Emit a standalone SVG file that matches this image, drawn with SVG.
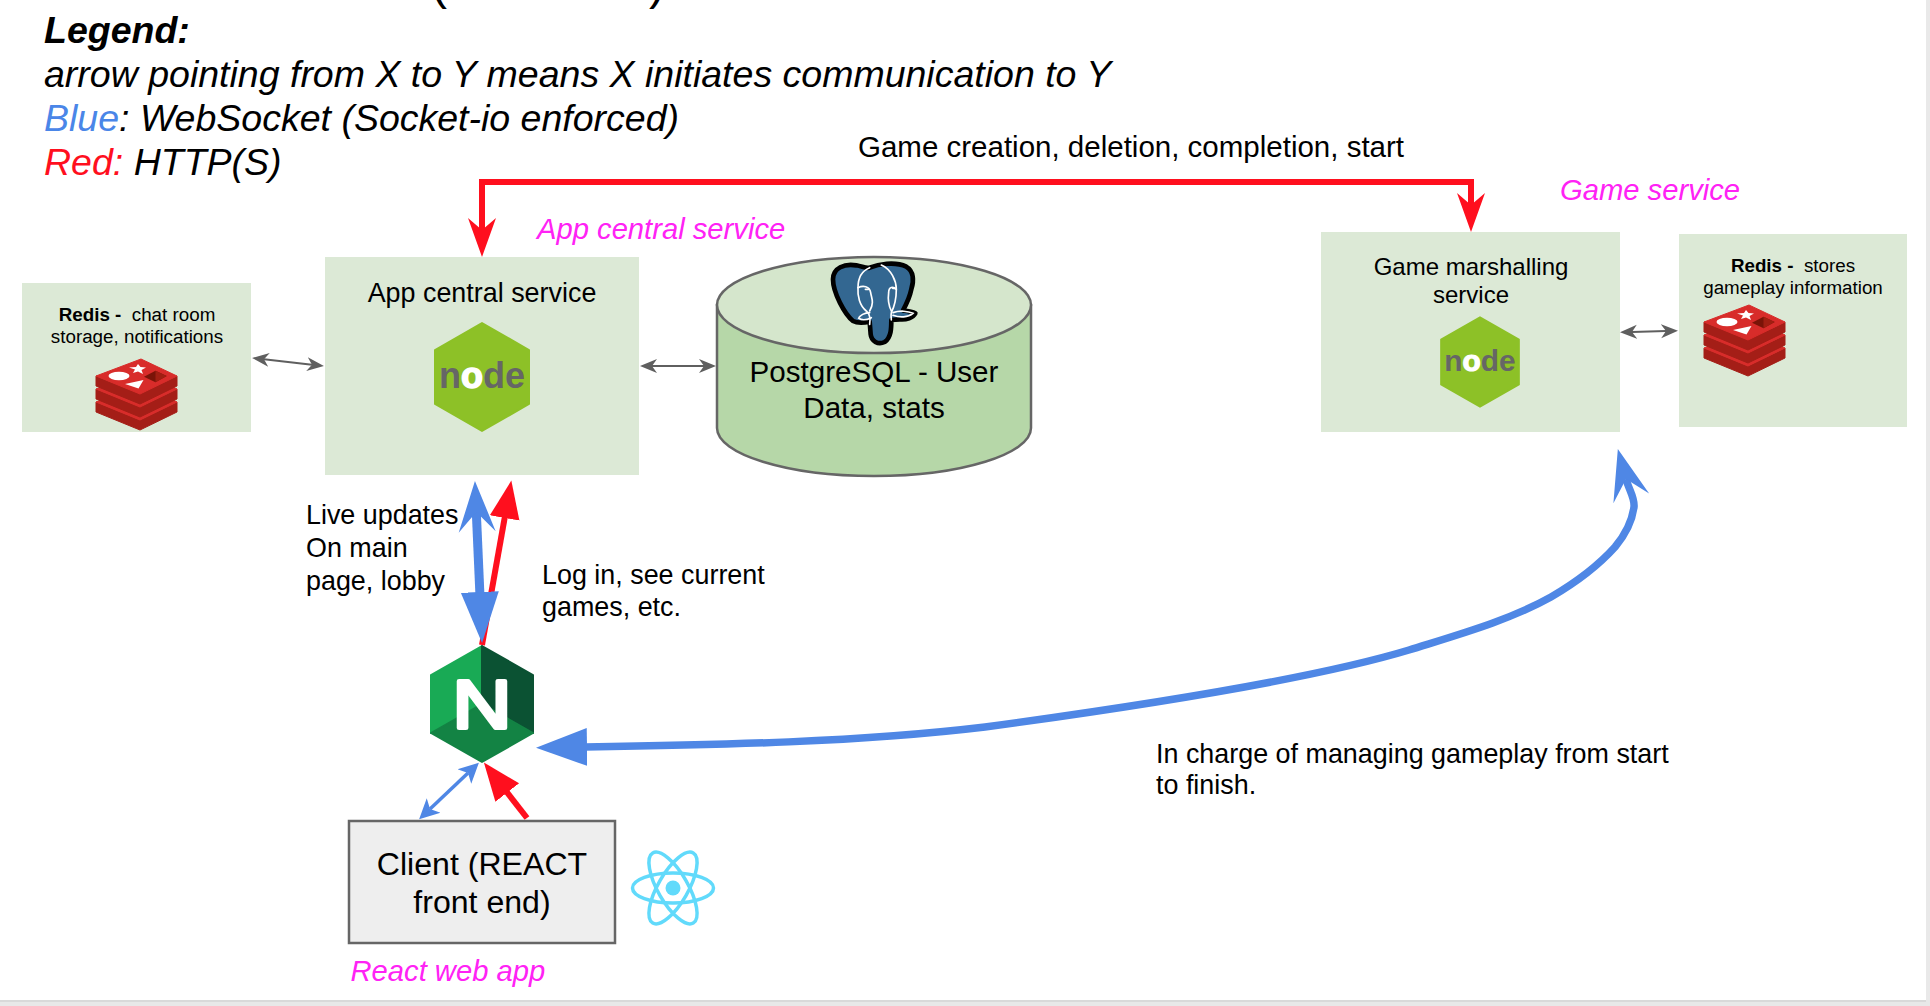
<svg xmlns="http://www.w3.org/2000/svg" xmlns:xlink="http://www.w3.org/1999/xlink" width="1930" height="1006" viewBox="0 0 1930 1006">
<style>
text{font-family:"Liberation Sans",Arial,sans-serif;fill:#000}
.leg{font-size:37.500px;font-style:italic}
.tag{font-size:29.200px;font-style:italic;fill:#ff22f5}
.lab{font-size:26.900px}
.big{font-size:29.600px;text-anchor:middle}
.mid{font-size:26.900px;text-anchor:middle}
.sm{font-size:18.800px;text-anchor:middle}
.box{fill:#dce9d6}
.grey{stroke:#5f5f5f;stroke-width:2;fill:none}
.red{stroke:#ff0f1e;fill:none}
.blue{stroke:#4f87e5;fill:none}
</style>
<defs>
<marker id="redBarb" markerUnits="userSpaceOnUse" markerWidth="45" markerHeight="32" viewBox="0 -16 45 32" refX="12" refY="0" orient="auto-start-reverse"><path d="M0,-14L39,0L0,14L12,0Z" fill="#ff0f1e"/></marker>
<marker id="redFlat" markerUnits="userSpaceOnUse" markerWidth="42" markerHeight="34" viewBox="0 -17 42 34" refX="2" refY="0" orient="auto-start-reverse"><path d="M0,-15L38,0L0,15Z" fill="#ff0f1e"/></marker>
<marker id="blueFlat" markerUnits="userSpaceOnUse" markerWidth="56" markerHeight="42" viewBox="0 -21 56 42" refX="2" refY="0" orient="auto-start-reverse"><path d="M0,-19L51,0L0,19Z" fill="#4f87e5"/></marker>
<marker id="blueBarb" markerUnits="userSpaceOnUse" markerWidth="56" markerHeight="42" viewBox="0 -21 56 42" refX="20" refY="0" orient="auto-start-reverse"><path d="M0,-18.500L51,0L0,18.500L20,0Z" fill="#4f87e5"/></marker>
<marker id="blueSmall" markerUnits="userSpaceOnUse" markerWidth="24" markerHeight="24" viewBox="0 -12 24 24" refX="5" refY="0" orient="auto-start-reverse"><path d="M0,-10L20,0L0,10L5,0Z" fill="#4f87e5"/></marker>
<marker id="greyHead" markerUnits="userSpaceOnUse" markerWidth="20" markerHeight="18" viewBox="0 -9 20 18" refX="5" refY="0" orient="auto-start-reverse"><path d="M0,-7L17,0L0,7L5,0Z" fill="#5f5f5f"/></marker>
<g id="redisLayer">
<path d="M6,21L50,39L87,21V31L50,49L6,31Z" fill="#a41e17" stroke="#a41e17" stroke-width="1" stroke-linejoin="round"/>
<path d="M6,21L51,4L87,21L50,39Z" fill="#d82c2a" stroke="#d82c2a" stroke-width="1" stroke-linejoin="round"/>
</g>
<g id="redisIcon">
<use href="#redisLayer" y="26"/>
<use href="#redisLayer" y="13"/>
<use href="#redisLayer"/>
<ellipse cx="29" cy="21" rx="10.500" ry="4.200" fill="#fff"/>
<path d="M48,9L50.500,12L56,12.500L51.500,15L53,19L48,16.500L43,18L45,14.500L39,12.500L46,12Z" fill="#fff"/>
<path d="M35,29L53.500,25L48.500,33.500Z" fill="#fff"/>
<path d="M54,21.700L65.500,15.700L76.700,21L65.500,27.300Z" fill="#7a1408"/><path d="M65.500,15.700L76.700,21L65.500,27.300Z" fill="#a11f12"/>
</g>
<g id="nodeIcon">
<path d="M0,-54L47,-27V27L0,54L-47,27V-27Z" fill="#8dc127" stroke="#8dc127" stroke-width="2" stroke-linejoin="round"/>
<text x="0" y="11" text-anchor="middle" style="font-size:36px;font-weight:bold;fill:#666;font-family:'Liberation Sans',sans-serif">n<tspan style="fill:#fff;stroke:#fff;stroke-width:1.500">o</tspan>de</text>
</g>
</defs>
<rect width="1930" height="1006" fill="#fff"/>
<rect x="1926" y="0" width="4" height="1006" fill="#e9e9e9"/>
<rect x="0" y="1000" width="1930" height="6" fill="#e8e8e8"/>
<rect x="0" y="1000" width="1926" height="2" fill="#d9d9d9"/>

<g id="title-fragment">
<text x="431" y="-1" style="font-size:48px">(</text>
<text x="649" y="-1" style="font-size:48px">)</text>
</g>
<g id="legend">
<text class="leg" x="44" y="43" style="font-weight:bold">Legend:</text>
<text class="leg" x="44" y="87">arrow pointing from X to Y means X initiates communication to Y</text>
<text class="leg" x="44" y="131"><tspan style="fill:#4a86e8">Blue</tspan>: WebSocket (Socket-io enforced)</text>
<text class="leg" x="44" y="175"><tspan style="fill:#ff0f1e">Red:</tspan> HTTP(S)</text>
</g>

<g id="redis-chat">
<rect class="box" x="22" y="283" width="229" height="149"/>
<text class="sm" x="137" y="321"><tspan style="font-weight:bold">Redis - </tspan>&#160;chat room</text>
<text class="sm" x="137" y="343">storage, notifications</text>
<use href="#redisIcon" transform="translate(90,355)"/>
</g>
<g id="app-central">
<rect class="box" x="325" y="257" width="314" height="218"/>
<text class="mid" x="482" y="302">App central service</text>
<use href="#nodeIcon" transform="translate(482,377)"/>
</g>
<g id="postgres">
<path d="M717,305V428C717,454 787,476 874,476C961,476 1031,454 1031,428V305Z" fill="#b6d7a8" stroke="#666" stroke-width="2.500"/>
<ellipse cx="874" cy="305" rx="157" ry="48" fill="#d5e6cc" stroke="#666" stroke-width="2.500"/>
<g transform="translate(828,256) scale(.3333)">
<path d="M15,70C15,35 50,22 85,28C105,32 115,38 125,35C150,25 200,15 235,32C258,45 258,75 250,100C245,125 235,145 225,163C240,165 255,168 262,172C255,185 235,192 215,190L190,192C190,215 190,245 170,258C150,268 130,255 128,235L125,197C110,200 90,203 75,195C50,175 15,110 15,70Z" fill="#336791" stroke="#000" stroke-width="14" stroke-linejoin="round"/>
<g fill="none" stroke="#fff" stroke-width="5" stroke-linecap="round">
<path d="M125,35C100,45 90,70 90,95C88,120 95,150 115,165C125,172 128,190 125,205"/>
<path d="M160,27C190,40 205,75 205,100C205,125 200,150 190,170C188,180 190,185 190,192"/>
<path d="M90,95C105,88 125,90 128,110C130,125 140,140 125,165"/>
<path d="M205,100C195,90 182,92 182,110C180,125 180,145 190,165"/>
<path d="M125,170C110,170 95,178 92,187C105,195 120,190 130,185"/>
<path d="M195,170C215,163 240,165 255,172C240,185 215,185 195,178"/>
<path d="M112,100h10M194,97h10"/>
</g>
</g>
<text class="big" x="874" y="382">PostgreSQL - User</text>
<text class="big" x="874" y="418">Data, stats</text>
</g>
<g id="game-marshalling">
<rect class="box" x="1321" y="232" width="299" height="200"/>
<text class="mid" x="1471" y="275" style="font-size:24px">Game marshalling</text>
<text class="mid" x="1471" y="303" style="font-size:24px">service</text>
<use href="#nodeIcon" transform="translate(1480,362) scale(.83)"/>
</g>
<g id="redis-game">
<rect class="box" x="1679" y="234" width="228" height="193"/>
<text class="sm" x="1793" y="272"><tspan style="font-weight:bold">Redis - </tspan>&#160;stores</text>
<text class="sm" x="1793" y="294">gameplay information</text>
<use href="#redisIcon" transform="translate(1698,301)"/>
</g>
<g id="nginx">
<path d="M482,646V704L431,733V675Z" fill="#19aa55" stroke="#19aa55" stroke-width="2" stroke-linejoin="round"/>
<path d="M482,646V704L533,733V675Z" fill="#0b5233" stroke="#0b5233" stroke-width="2" stroke-linejoin="round"/>
<path d="M482,704L533,733L482,762L431,733Z" fill="#138344" stroke="#138344" stroke-width="2" stroke-linejoin="round"/>
<text transform="translate(482,727.500) scale(1.200,1)" text-anchor="middle" style="font-size:68px;fill:#fff;stroke:#fff;stroke-width:4;stroke-linejoin:round">N</text>
</g>
<g id="client">
<rect x="349" y="821" width="266" height="122" fill="#eee" stroke="#666" stroke-width="2.500"/>
<text class="big" x="482" y="875" style="font-size:32.100px">Client (REACT</text>
<text class="big" x="482" y="913" style="font-size:32.100px">front end)</text>
</g>
<g id="react-logo" fill="none" stroke="#61dafb" stroke-width="3.500">
<ellipse cx="673" cy="888" rx="40.500" ry="15"/>
<ellipse cx="673" cy="888" rx="40.500" ry="15" transform="rotate(60 673 888)"/>
<ellipse cx="673" cy="888" rx="40.500" ry="15" transform="rotate(120 673 888)"/>
<circle cx="673" cy="888" r="7.500" fill="#61dafb" stroke="none"/>
</g>

<g id="connectors">
<path class="red" stroke-width="6" d="M482,230V182H1471V205" marker-start="url(#redBarb)" marker-end="url(#redBarb)"/>
<path class="grey" d="M264,359.300L312,364.700" marker-start="url(#greyHead)" marker-end="url(#greyHead)"/>
<path class="grey" d="M652,366H704" marker-start="url(#greyHead)" marker-end="url(#greyHead)"/>
<path class="grey" d="M1632,332L1666,331" marker-start="url(#greyHead)" marker-end="url(#greyHead)"/>
<path class="red" stroke-width="6" d="M482,645L505,516" marker-end="url(#redFlat)"/>
<path class="blue" stroke-width="9" d="M476.300,512L479.900,594" marker-start="url(#blueBarb)" marker-end="url(#blueFlat)"/>
<path class="blue" stroke-width="7.500" d="M585,747C720,745 860,742 985,727C1125,708 1310,680 1409,650C1460,634 1510,620 1551,597C1575,583 1597,567 1615,547C1625,535 1632,522 1634,507C1635,498 1629,490 1626,479" marker-start="url(#blueFlat)" marker-end="url(#blueBarb)"/>
<path class="blue" stroke-width="3.500" d="M430,809L468,773" marker-start="url(#blueSmall)" marker-end="url(#blueSmall)"/>
<path class="red" stroke-width="6" d="M527,818L506,791" marker-end="url(#redFlat)"/>
</g>

<g id="labels">
<text class="tag" x="537" y="239">App central service</text>
<text class="tag" x="1560" y="200">Game service</text>
<text class="tag" x="350.500" y="981">React web app</text>
<text class="lab" x="858" y="157" style="font-size:29.500px">Game creation, deletion, completion, start</text>
<text class="lab" x="306" y="524">Live updates</text>
<text class="lab" x="306" y="557">On main</text>
<text class="lab" x="306" y="590">page, lobby</text>
<text class="lab" x="542" y="584">Log in, see current</text>
<text class="lab" x="542" y="616">games, etc.</text>
<text class="lab" x="1156" y="763">In charge of managing gameplay from start</text>
<text class="lab" x="1156" y="794">to finish.</text>
</g>
</svg>
